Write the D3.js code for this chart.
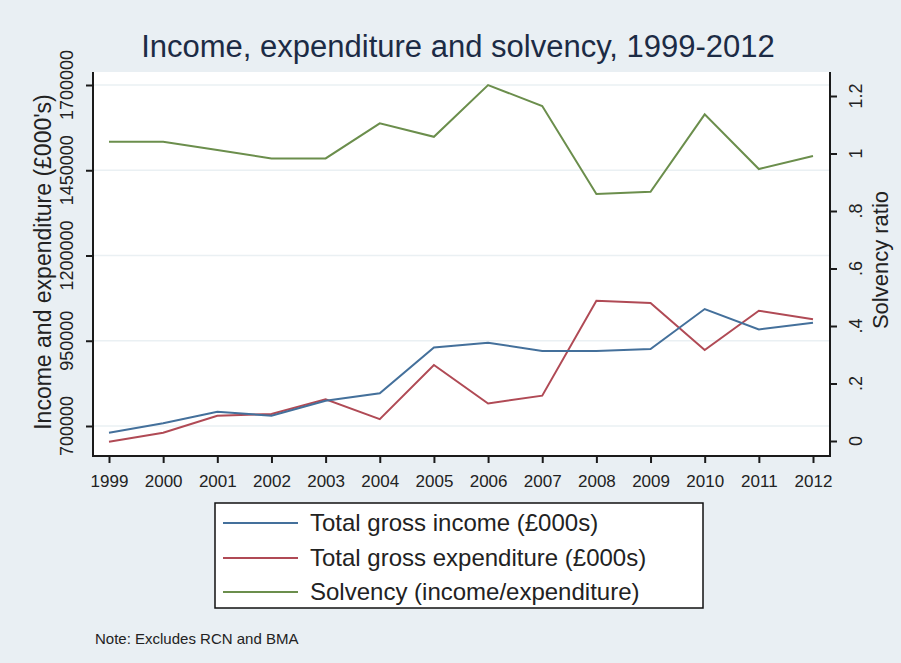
<!DOCTYPE html>
<html>
<head>
<meta charset="utf-8">
<script src="https://cdn.jsdelivr.net/npm/d3@7"></script>
<style>
    body { margin: 0; background: #e9eff3; }
    svg { display: block; font-family: "Liberation Sans", Arial, sans-serif; }
</style>
</head>
<body>
<div id="chart"></div>
<script>
const years = [1999, 2000, 2001, 2002, 2003, 2004, 2005, 2006, 2007, 2008, 2009, 2010, 2011, 2012];
const income = [680000, 708000, 742000, 730000, 774000, 796000, 930000, 944000, 920000, 920000, 926000, 1043000, 983000, 1003000];
const expenditure = [654000, 680000, 730000, 735000, 778000, 720000, 879000, 766000, 789000, 1067000, 1061000, 923000, 1038000, 1013000];
const solvency = [1.041, 1.041, 1.012, 0.983, 0.983, 1.105, 1.058, 1.238, 1.165, 0.859, 0.867, 1.136, 0.946, 0.991];
const leftTicks = [700000, 950000, 1200000, 1450000, 1700000];
const rightTicks = [0, 0.2, 0.4, 0.6, 0.8, 1, 1.2];
const rightTickLabels = ["0", ".2", ".4", ".6", ".8", "1", "1.2"];
const seriesNames = ["Total gross income (£000s)", "Total gross expenditure (£000s)", "Solvency (income/expenditure)"];
const colors = ["#44709b", "#b04a55", "#6b8e4c"];

const width = 901, height = 663;
const plot = {left: 93, right: 830, top: 72, bottom: 456};

const svg = d3.select("#chart").append("svg")
    .attr("width", width)
    .attr("height", height);

svg.append("rect").attr("width", width).attr("height", height).attr("fill", "#e9eff3");
svg.append("rect")
    .attr("x", plot.left).attr("y", plot.top)
    .attr("width", plot.right - plot.left).attr("height", plot.bottom - plot.top)
    .attr("fill", "#fff");

const x = d3.scaleLinear().domain([1999, 2012]).range([109, 813]);
const yL = d3.scaleLinear().domain([700000, 1700000]).range([426, 85]);
const yR = d3.scaleLinear().domain([0, 1.2]).range([441, 96]);

// gridlines
svg.append("g").selectAll("line")
    .data(leftTicks)
    .enter().append("line")
    .attr("x1", plot.left).attr("x2", plot.right)
    .attr("y1", d => yL(d)).attr("y2", d => yL(d))
    .attr("stroke", "#eaf0f3")
    .attr("stroke-width", 1.5);

// axes
const axisColor = "#1a1a1a";
const gL = svg.append("g")
    .attr("transform", `translate(${plot.left},0)`)
    .call(d3.axisLeft(yL).tickValues(leftTicks).tickSize(7).tickFormat(""));
const gR = svg.append("g")
    .attr("transform", `translate(${plot.right},0)`)
    .call(d3.axisRight(yR).tickValues(rightTicks).tickSize(7).tickFormat(""));
const gB = svg.append("g")
    .attr("transform", `translate(0,${plot.bottom})`)
    .call(d3.axisBottom(x).tickValues(years).tickSize(7).tickFormat(d3.format("d")));

[gL, gR, gB].forEach(g => {
    g.select(".domain").remove();
    g.selectAll(".tick line").attr("stroke", axisColor).attr("stroke-width", 2);
});
gB.selectAll(".tick text")
    .attr("y", 19)
    .attr("font-size", 17)
    .attr("font-family", "Liberation Sans, Arial, sans-serif")
    .attr("fill", "#222");

svg.append("path")
    .attr("d", `M${plot.left},${plot.top}V${plot.bottom}H${plot.right}V${plot.top}`)
    .attr("fill", "none")
    .attr("stroke", axisColor)
    .attr("stroke-width", 2);

// rotated tick labels
svg.append("g").selectAll("text")
    .data(leftTicks)
    .enter().append("text")
    .attr("transform", d => `translate(73,${yL(d)}) rotate(-90)`)
    .attr("text-anchor", "middle")
    .attr("font-size", 18)
    .attr("fill", "#222")
    .text(d => d);

svg.append("g").selectAll("text")
    .data(rightTicks)
    .enter().append("text")
    .attr("transform", d => `translate(862,${yR(d)}) rotate(-90)`)
    .attr("text-anchor", "middle")
    .attr("font-size", 18)
    .attr("fill", "#222")
    .text((d, i) => rightTickLabels[i]);

// axis titles
svg.append("text")
    .attr("transform", "translate(51,262) rotate(-90)")
    .attr("text-anchor", "middle")
    .attr("font-size", 23)
    .attr("fill", "#222")
    .text("Income and expenditure (£000's)");

svg.append("text")
    .attr("transform", "translate(888,260) rotate(-90)")
    .attr("text-anchor", "middle")
    .attr("font-size", 22)
    .attr("fill", "#222")
    .text("Solvency ratio");

// title
svg.append("text")
    .attr("x", 458).attr("y", 57)
    .attr("text-anchor", "middle")
    .attr("font-size", 31)
    .attr("fill", "#1c2b45")
    .text("Income, expenditure and solvency, 1999-2012");

// lines
const lineL = d3.line().x((d, i) => x(years[i])).y(d => yL(d));
const lineR = d3.line().x((d, i) => x(years[i])).y(d => yR(d));

svg.append("path").datum(solvency)
    .attr("d", lineR).attr("fill", "none")
    .attr("stroke", colors[2]).attr("stroke-width", 2);
svg.append("path").datum(expenditure)
    .attr("d", lineL).attr("fill", "none")
    .attr("stroke", colors[1]).attr("stroke-width", 2);
svg.append("path").datum(income)
    .attr("d", lineL).attr("fill", "none")
    .attr("stroke", colors[0]).attr("stroke-width", 2);

// legend
const legend = svg.append("g");
legend.append("rect")
    .attr("x", 215).attr("y", 503)
    .attr("width", 488).attr("height", 105)
    .attr("fill", "#fff")
    .attr("stroke", "#111")
    .attr("stroke-width", 1.5);

const rowY = [523, 558, 592];
const item = legend.selectAll(".item")
    .data(seriesNames)
    .enter().append("g")
    .attr("class", "item")
    .attr("transform", (d, i) => `translate(0,${rowY[i]})`);

item.append("line")
    .attr("x1", 223).attr("x2", 298)
    .attr("stroke", (d, i) => colors[i])
    .attr("stroke-width", 2);

item.append("text")
    .attr("x", 310)
    .attr("dy", "0.35em")
    .attr("font-size", 24)
    .attr("fill", "#222")
    .text(d => d);

svg.append("text")
    .attr("x", 95).attr("y", 644)
    .attr("font-size", 15)
    .attr("fill", "#222")
    .text("Note: Excludes RCN and BMA");
</script>
</body>
</html>
